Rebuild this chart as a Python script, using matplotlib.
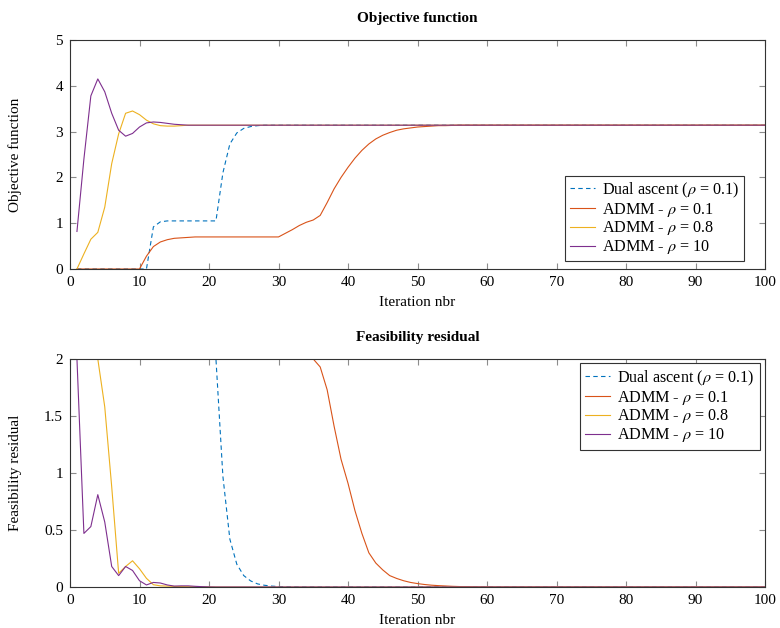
import numpy as np
import matplotlib
matplotlib.use("Agg")
import matplotlib.pyplot as plt
from matplotlib.ticker import FormatStrFormatter

plt.rcParams['font.family'] = ['Liberation Serif', 'DejaVu Serif']
plt.rcParams['mathtext.fontset'] = 'stix'
plt.rcParams['font.size'] = 11

# iterations 1..100
iters = np.arange(1, 101)

# objective function
obj_dual = [0, 0, 0, 0, 0, 0, 0, 0, 0, 0,
            0, 0.92, 1.03, 1.05, 1.05, 1.05, 1.05, 1.05, 1.05, 1.05,
            1.05, 2.1, 2.73, 2.97, 3.07, 3.11, 3.13, 3.14, 3.14, 3.14,
            3.14, 3.14, 3.14, 3.14, 3.14, 3.14, 3.14, 3.14, 3.14, 3.14,
            3.14, 3.14, 3.14, 3.14, 3.14, 3.14, 3.14, 3.14, 3.14, 3.14,
            3.14, 3.14, 3.14, 3.14, 3.14, 3.14, 3.14, 3.14, 3.14, 3.14,
            3.14, 3.14, 3.14, 3.14, 3.14, 3.14, 3.14, 3.14, 3.14, 3.14,
            3.14, 3.14, 3.14, 3.14, 3.14, 3.14, 3.14, 3.14, 3.14, 3.14,
            3.14, 3.14, 3.14, 3.14, 3.14, 3.14, 3.14, 3.14, 3.14, 3.14,
            3.14, 3.14, 3.14, 3.14, 3.14, 3.14, 3.14, 3.14, 3.14, 3.14]
obj_rho01 = [0, 0, 0, 0, 0, 0, 0, 0, 0, 0,
             0.28, 0.49, 0.59, 0.64, 0.67, 0.68, 0.69, 0.70, 0.70, 0.70,
             0.70, 0.70, 0.70, 0.70, 0.70, 0.70, 0.70, 0.70, 0.70, 0.70,
             0.78, 0.86, 0.95, 1.02, 1.07, 1.17, 1.45, 1.75, 2.0, 2.22,
             2.42, 2.59, 2.73, 2.84, 2.92, 2.98, 3.03, 3.06, 3.08, 3.10,
             3.11, 3.12, 3.13, 3.13, 3.135, 3.14, 3.14, 3.14, 3.14, 3.14,
             3.14, 3.14, 3.14, 3.14, 3.14, 3.14, 3.14, 3.14, 3.14, 3.14,
             3.14, 3.14, 3.14, 3.14, 3.14, 3.14, 3.14, 3.14, 3.14, 3.14,
             3.14, 3.14, 3.14, 3.14, 3.14, 3.14, 3.14, 3.14, 3.14, 3.14,
             3.14, 3.14, 3.14, 3.14, 3.14, 3.14, 3.14, 3.14, 3.14, 3.14]
obj_rho08 = [0, 0.33, 0.65, 0.8, 1.35, 2.3, 2.95, 3.4, 3.45, 3.37,
             3.25, 3.17, 3.13, 3.12, 3.12, 3.13, 3.14, 3.14, 3.14, 3.14,
             3.14, 3.14, 3.14, 3.14, 3.14, 3.14, 3.14, 3.14, 3.14, 3.14,
             3.14, 3.14, 3.14, 3.14, 3.14, 3.14, 3.14, 3.14, 3.14, 3.14,
             3.14, 3.14, 3.14, 3.14, 3.14, 3.14, 3.14, 3.14, 3.14, 3.14,
             3.14, 3.14, 3.14, 3.14, 3.14, 3.14, 3.14, 3.14, 3.14, 3.14,
             3.14, 3.14, 3.14, 3.14, 3.14, 3.14, 3.14, 3.14, 3.14, 3.14,
             3.14, 3.14, 3.14, 3.14, 3.14, 3.14, 3.14, 3.14, 3.14, 3.14,
             3.14, 3.14, 3.14, 3.14, 3.14, 3.14, 3.14, 3.14, 3.14, 3.14,
             3.14, 3.14, 3.14, 3.14, 3.14, 3.14, 3.14, 3.14, 3.14, 3.14]
obj_rho10 = [0.82, 2.4, 3.78, 4.15, 3.87, 3.4, 3.03, 2.9, 2.96, 3.1,
             3.19, 3.21, 3.2, 3.18, 3.16, 3.15, 3.14, 3.14, 3.14, 3.14,
             3.14, 3.14, 3.14, 3.14, 3.14, 3.14, 3.14, 3.14, 3.14, 3.14,
             3.14, 3.14, 3.14, 3.14, 3.14, 3.14, 3.14, 3.14, 3.14, 3.14,
             3.14, 3.14, 3.14, 3.14, 3.14, 3.14, 3.14, 3.14, 3.14, 3.14,
             3.14, 3.14, 3.14, 3.14, 3.14, 3.14, 3.14, 3.14, 3.14, 3.14,
             3.14, 3.14, 3.14, 3.14, 3.14, 3.14, 3.14, 3.14, 3.14, 3.14,
             3.14, 3.14, 3.14, 3.14, 3.14, 3.14, 3.14, 3.14, 3.14, 3.14,
             3.14, 3.14, 3.14, 3.14, 3.14, 3.14, 3.14, 3.14, 3.14, 3.14,
             3.14, 3.14, 3.14, 3.14, 3.14, 3.14, 3.14, 3.14, 3.14, 3.14]

# feasibility residual, values above the axis are shown at the top (2)
res_dual = [2, 2, 2, 2, 2, 2, 2, 2, 2, 2,
            2, 2, 2, 2, 2, 2, 2, 2, 2, 2,
            2, 0.97, 0.42, 0.2, 0.1, 0.053, 0.027, 0.015, 0.008, 0.004,
            0.002, 0.001, 0, 0, 0, 0, 0, 0, 0, 0,
            0, 0, 0, 0, 0, 0, 0, 0, 0, 0,
            0, 0, 0, 0, 0, 0, 0, 0, 0, 0,
            0, 0, 0, 0, 0, 0, 0, 0, 0, 0,
            0, 0, 0, 0, 0, 0, 0, 0, 0, 0,
            0, 0, 0, 0, 0, 0, 0, 0, 0, 0,
            0, 0, 0, 0, 0, 0, 0, 0, 0, 0]
res_rho01 = [2, 2, 2, 2, 2, 2, 2, 2, 2, 2,
             2, 2, 2, 2, 2, 2, 2, 2, 2, 2,
             2, 2, 2, 2, 2, 2, 2, 2, 2, 2,
             2, 2, 2, 2, 2, 1.93, 1.73, 1.41, 1.12, 0.91,
             0.67, 0.47, 0.3, 0.21, 0.15, 0.1, 0.075, 0.055, 0.04, 0.03,
             0.022, 0.016, 0.012, 0.009, 0.006, 0.004, 0.003, 0.002, 0.001, 0.001,
             0, 0, 0, 0, 0, 0, 0, 0, 0, 0,
             0, 0, 0, 0, 0, 0, 0, 0, 0, 0,
             0, 0, 0, 0, 0, 0, 0, 0, 0, 0,
             0, 0, 0, 0, 0, 0, 0, 0, 0, 0]
res_rho08 = [2, 2, 2, 2, 1.58, 0.88, 0.12, 0.18, 0.23, 0.16,
             0.076, 0.02, 0.01, 0.008, 0.005, 0.004, 0.003, 0.002, 0.001, 0.001,
             0, 0, 0, 0, 0, 0, 0, 0, 0, 0,
             0, 0, 0, 0, 0, 0, 0, 0, 0, 0,
             0, 0, 0, 0, 0, 0, 0, 0, 0, 0,
             0, 0, 0, 0, 0, 0, 0, 0, 0, 0,
             0, 0, 0, 0, 0, 0, 0, 0, 0, 0,
             0, 0, 0, 0, 0, 0, 0, 0, 0, 0,
             0, 0, 0, 0, 0, 0, 0, 0, 0, 0,
             0, 0, 0, 0, 0, 0, 0, 0, 0, 0]
res_rho10 = [2, 0.47, 0.53, 0.81, 0.57, 0.18, 0.1, 0.18, 0.145, 0.055,
             0.018, 0.04, 0.035, 0.018, 0.008, 0.01, 0.01, 0.006, 0.003, 0.001,
             0, 0, 0, 0, 0, 0, 0, 0, 0, 0,
             0, 0, 0, 0, 0, 0, 0, 0, 0, 0,
             0, 0, 0, 0, 0, 0, 0, 0, 0, 0,
             0, 0, 0, 0, 0, 0, 0, 0, 0, 0,
             0, 0, 0, 0, 0, 0, 0, 0, 0, 0,
             0, 0, 0, 0, 0, 0, 0, 0, 0, 0,
             0, 0, 0, 0, 0, 0, 0, 0, 0, 0,
             0, 0, 0, 0, 0, 0, 0, 0, 0, 0]

labels = [r"Dual ascent ($\rho$ = 0.1)", r"ADMM - $\rho$ = 0.1",
          r"ADMM - $\rho$ = 0.8", r"ADMM - $\rho$ = 10"]
colors = ["#0072BD", "#D95319", "#EDB120", "#7E2F8E"]
styles = [(0, (4, 3)), "-", "-", "-"]


def style_axes(ax, ylabel, title):
    ax.set_xlim(0, 100)
    ax.set_xticks(np.arange(0, 101, 10))
    ax.tick_params(direction="in", top=True, right=True, length=4,
                   width=0.8, color="#8c8c8c", pad=5)
    for s in ax.spines.values():
        s.set_color("#333333")
        s.set_linewidth(0.8)
    ax.set_xlabel("Iteration nbr", labelpad=5)
    ax.set_ylabel(ylabel)
    ax.yaxis.set_label_coords(-0.069, 0.5)
    ax.set_title(title, fontweight="bold", fontsize=11, pad=13)


def add_legend(ax, loc, anchor, pad):
    leg = ax.legend(loc=loc, bbox_to_anchor=anchor, borderaxespad=0,
                    fancybox=False, edgecolor="#333333", framealpha=1,
                    fontsize=11.6, handlelength=1.55, labelspacing=0.05,
                    borderpad=pad, handletextpad=0.45)
    leg.get_frame().set_linewidth(0.8)


fig = plt.figure(figsize=(7.8, 6.28), dpi=100)
ax1 = fig.add_axes([70/780, 1-269/628, 695/780, 229/628])
ax2 = fig.add_axes([70/780, 1-587/628, 695/780, 228/628])

for y, lab, c, ls in zip([obj_dual, obj_rho01, obj_rho08, obj_rho10], labels, colors, styles):
    ax1.plot(iters, y, color=c, linestyle=ls, lw=0.8, label=lab)
ax1.set_ylim(0, 5)
ax1.set_yticks(np.arange(0, 6, 1))
style_axes(ax1, "Objective function", "Objective function")
add_legend(ax1, "lower right", (0.97, 0.035), 0.3)

for y, lab, c, ls in zip([res_dual, res_rho01, res_rho08, res_rho10], labels, colors, styles):
    ax2.plot(iters, y, color=c, linestyle=ls, lw=0.8, label=lab)
ax2.set_ylim(0, 2)
ax2.set_yticks([0, 0.5, 1, 1.5, 2])
ax2.yaxis.set_major_formatter(FormatStrFormatter("%g"))
style_axes(ax2, "Feasibility residual", "Feasibility residual")
add_legend(ax2, "upper right", (0.993, 0.983), 0.35)

fig.savefig("out.png", dpi=100)
